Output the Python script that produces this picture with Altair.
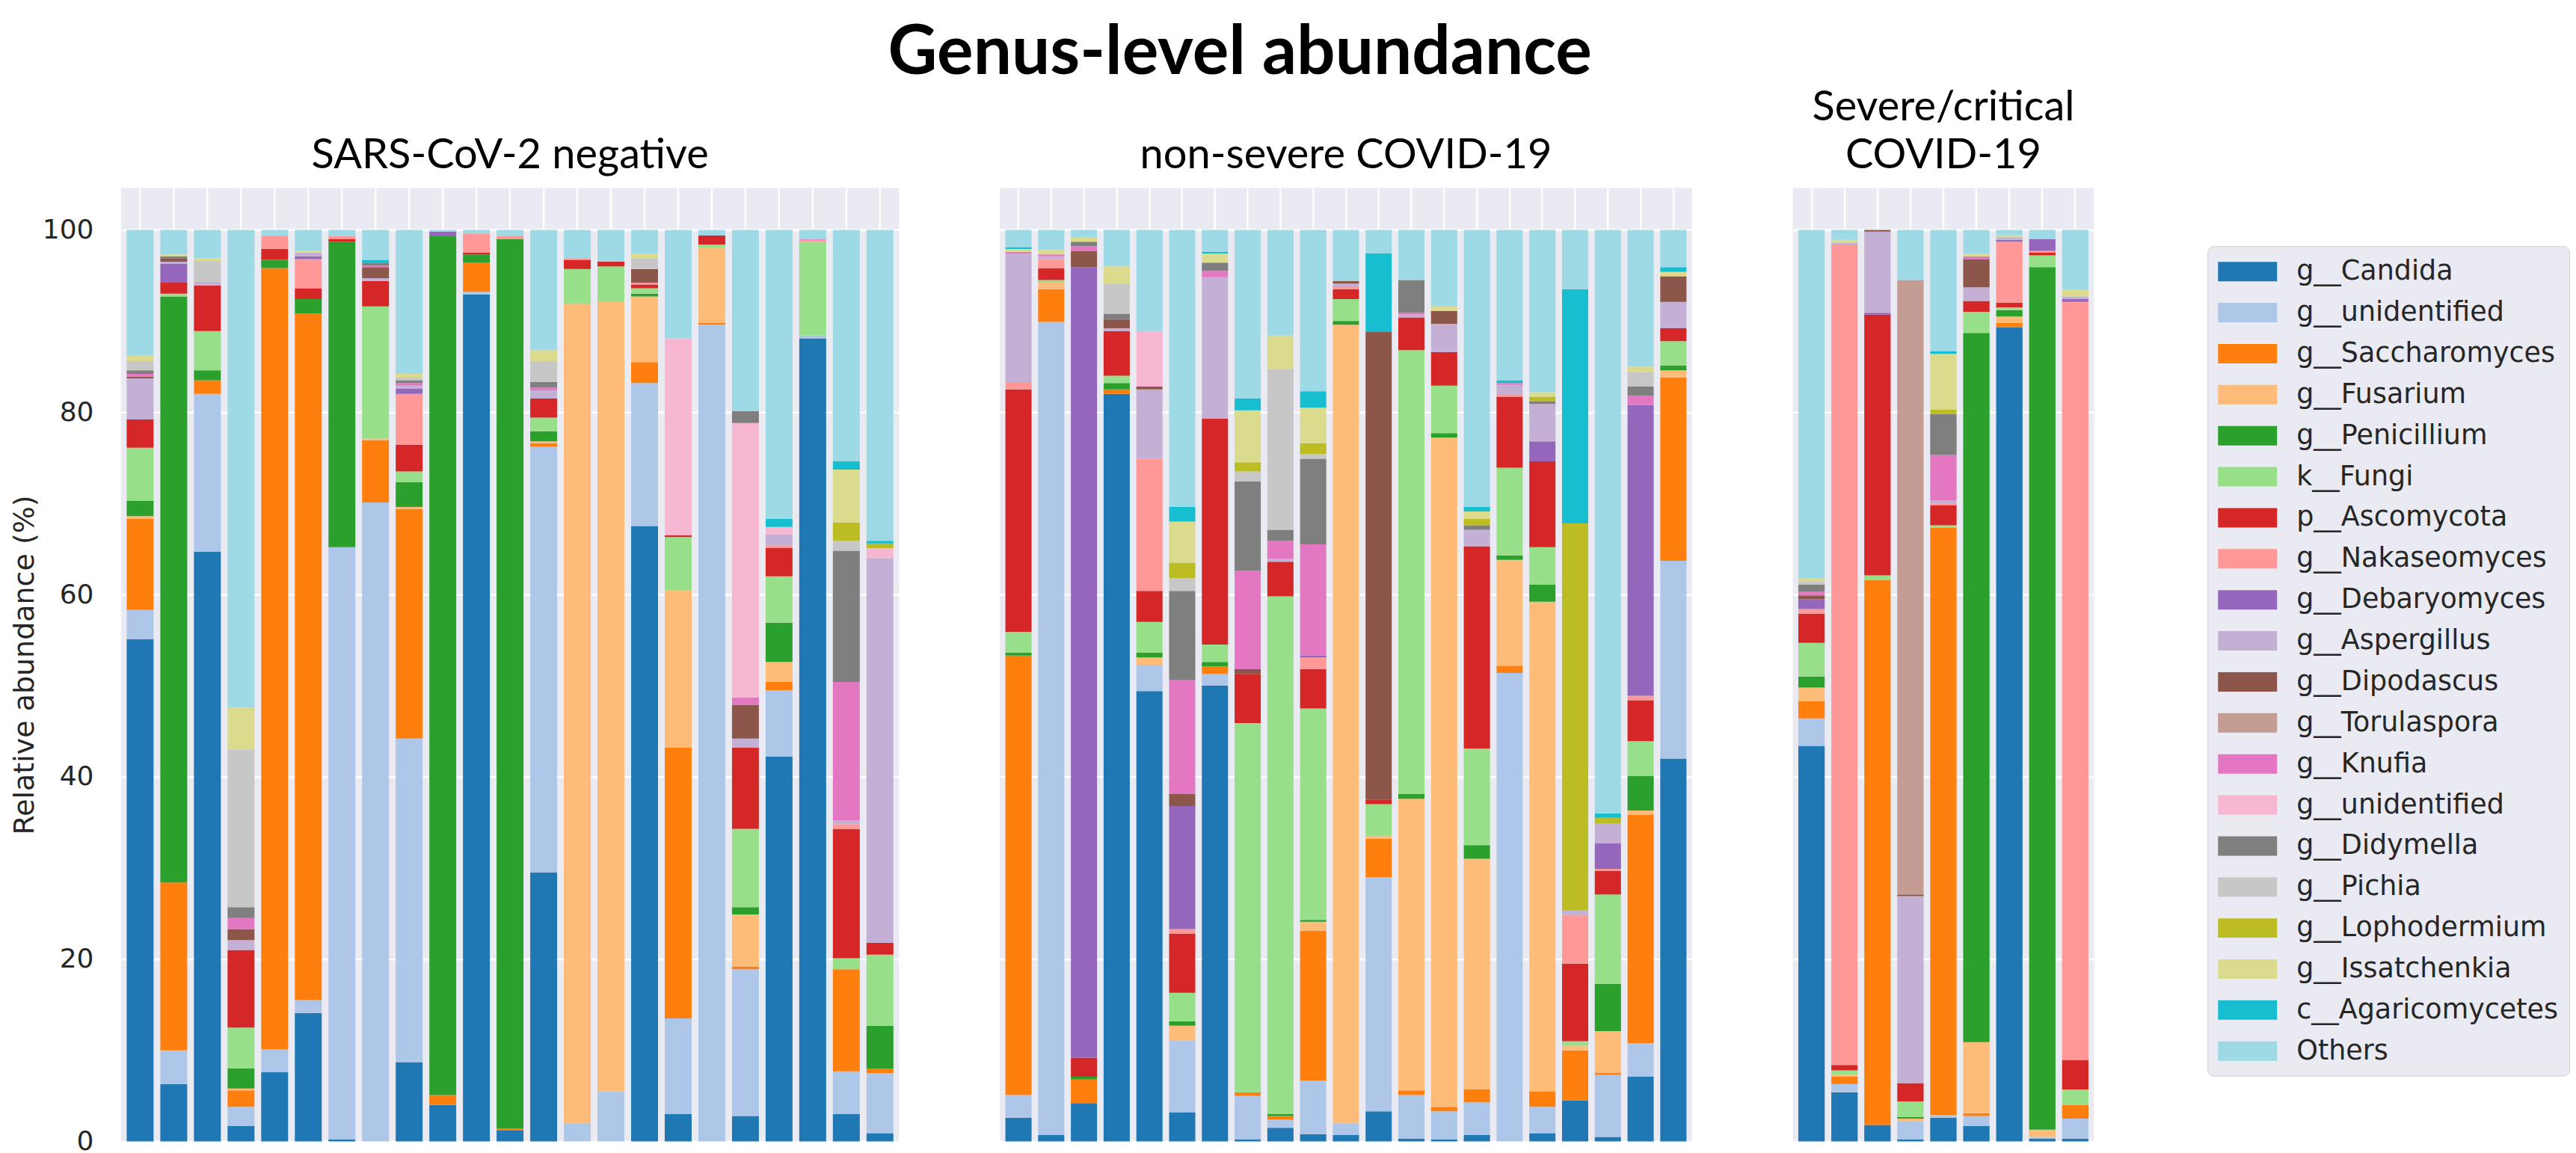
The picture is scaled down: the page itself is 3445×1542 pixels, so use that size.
import altair as alt
import pandas as pd

categories = ["g__Candida", "g__unidentified", "g__Saccharomyces", "g__Fusarium",
              "g__Penicillium", "k__Fungi", "p__Ascomycota", "g__Nakaseomyces",
              "g__Debaryomyces", "g__Aspergillus", "g__Dipodascus", "g__Torulaspora",
              "g__Knufia", "g__unidentified ", "g__Didymella", "g__Pichia",
              "g__Lophodermium", "g__Issatchenkia", "c__Agaricomycetes", "Others"]

colors = ["#1f77b4", "#aec7e8", "#ff7f0e", "#ffbb78", "#2ca02c", "#98df8a",
          "#d62728", "#ff9896", "#9467bd", "#c5b0d5", "#8c564b", "#c49c94",
          "#e377c2", "#f7b6d2", "#7f7f7f", "#c7c7c7", "#bcbd22", "#dbdb8d",
          "#17becf", "#9edae5"]

panel_titles = ["SARS-CoV-2 negative", "non-severe COVID-19", ["Severe/critical", "COVID-19"]]

# one row per sample, values in the order of `categories`
negative = [
    [55.1, 3.2, 10.0, 0.3, 1.7, 5.8, 3.1, 0, 0, 4.5, 0.2, 0, 0.3, 0, 0.4, 1.0, 0, 0.6, 0, 13.8],
    [6.3, 3.7, 18.4, 0, 64.3, 0.3, 1.2, 0, 2.1, 0.2, 0.4, 0, 0, 0, 0.2, 0, 0, 0.2, 0, 2.7],
    [64.7, 17.3, 1.5, 0, 1.1, 4.3, 5.0, 0, 0, 0.4, 0, 0, 0, 0, 0, 2.3, 0, 0.3, 0, 3.1],
    [1.7, 2.1, 1.8, 0.2, 2.2, 4.5, 8.5, 0, 0, 1.1, 1.2, 0, 1.2, 0, 1.2, 17.3, 0, 4.6, 0, 52.4],
    [7.6, 2.5, 85.7, 0, 0.9, 0, 1.2, 1.4, 0, 0, 0, 0, 0, 0, 0, 0, 0, 0, 0, 0.7],
    [14.1, 1.4, 75.3, 0, 1.6, 0, 1.2, 3.2, 0.3, 0.4, 0, 0, 0, 0, 0, 0, 0, 0.2, 0, 2.3],
    [0.2, 65.0, 0, 0, 33.5, 0, 0.3, 0.3, 0, 0, 0, 0, 0, 0, 0, 0, 0, 0, 0, 0.7],
    [0, 70.1, 6.8, 0.2, 0, 14.5, 2.8, 0, 0, 0.3, 1.2, 0, 0.2, 0, 0.3, 0, 0, 0, 0.3, 3.3],
    [8.7, 35.5, 25.2, 0.2, 2.7, 1.2, 2.9, 5.6, 0.6, 0.3, 0, 0, 0.3, 0, 0.3, 0.3, 0, 0.4, 0, 15.8],
    [4.0, 0, 1.1, 0, 94.2, 0, 0, 0, 0.5, 0, 0, 0, 0, 0, 0, 0, 0, 0, 0, 0.2],
    [92.9, 0.3, 3.2, 0, 0.9, 0, 0.2, 2.1, 0, 0, 0, 0, 0, 0, 0, 0, 0, 0, 0, 0.4],
    [1.2, 0, 0.2, 0, 97.6, 0, 0, 0.3, 0, 0, 0, 0, 0, 0, 0, 0, 0, 0, 0, 0.7],
    [29.5, 46.7, 0.4, 0.2, 1.1, 1.5, 2.1, 0, 0, 0.9, 0, 0, 0.3, 0, 0.6, 2.3, 0, 1.2, 0, 13.2],
    [0, 2.0, 0, 89.9, 0, 3.8, 1.0, 0.2, 0, 0, 0, 0, 0, 0, 0, 0, 0, 0, 0, 3.1],
    [0, 5.5, 0, 86.6, 0, 3.9, 0.5, 0, 0, 0, 0, 0, 0, 0, 0, 0, 0, 0, 0, 3.5],
    [67.5, 15.7, 2.3, 7.2, 0.3, 0.6, 0.4, 0.2, 0, 0, 1.5, 0, 0, 0, 0, 1.2, 0, 0.5, 0, 2.6],
    [3.0, 10.5, 29.7, 17.3, 0, 5.8, 0.2, 0, 0, 0, 0, 0, 0, 21.6, 0, 0, 0, 0, 0, 11.9],
    [0, 89.6, 0.2, 8.2, 0, 0.4, 1.0, 0, 0, 0, 0, 0, 0, 0, 0, 0, 0, 0, 0, 0.6],
    [2.8, 16.1, 0.3, 5.7, 0.8, 8.6, 8.9, 0, 0, 1.0, 3.7, 0, 0.8, 30.1, 1.3, 0, 0, 0, 0, 19.9],
    [42.2, 7.3, 0.9, 2.2, 4.3, 5.1, 3.1, 0.3, 0, 1.2, 0, 0, 0, 0.8, 0, 0, 0, 0, 0.9, 31.7],
    [88.1, 0.3, 0, 0, 0, 10.3, 0, 0.2, 0, 0, 0, 0, 0.1, 0, 0, 0, 0, 0, 0, 1.0],
    [3.0, 4.7, 11.2, 0, 0, 1.2, 14.2, 0.5, 0, 0.4, 0, 0, 15.2, 0, 14.4, 1.1, 2.0, 5.8, 0.9, 25.4],
    [0.9, 6.6, 0.5, 0, 4.7, 7.8, 1.3, 0, 0, 42.2, 0, 0, 0, 1.1, 0, 0, 0.5, 0, 0.3, 34.1],
]

nonsevere = [
    [2.6, 2.5, 48.2, 0, 0.3, 2.3, 26.6, 0.8, 0, 14.1, 0, 0, 0.2, 0, 0, 0, 0, 0.3, 0.2, 1.9],
    [0.7, 89.2, 3.6, 0.7, 0, 0.3, 1.3, 1.0, 0, 0.3, 0, 0, 0.2, 0, 0, 0, 0, 0.5, 0, 2.2],
    [4.2, 0, 2.6, 0, 0.3, 0, 2.1, 0, 86.7, 0, 1.8, 0, 0.5, 0, 0.5, 0, 0, 0.5, 0, 0.8],
    [82.0, 0, 0.5, 0, 0.7, 0.8, 4.9, 0, 0, 0.3, 0.9, 0, 0, 0, 0.7, 3.3, 0, 1.9, 0, 4.0],
    [49.4, 2.9, 0, 0.8, 0.5, 3.4, 3.4, 14.5, 0, 7.6, 0.3, 0, 0, 6.1, 0, 0, 0, 0, 0, 11.1],
    [3.2, 7.9, 0, 1.6, 0.5, 3.1, 6.5, 0.5, 13.5, 0, 1.3, 0, 12.5, 0, 9.8, 1.4, 1.7, 4.5, 1.6, 30.4],
    [50.0, 1.3, 0.8, 0, 0.5, 1.9, 24.8, 0, 0, 15.5, 0, 0, 0.7, 0, 0.9, 0, 0, 1.0, 0.2, 2.4],
    [0.2, 4.8, 0.4, 0, 0, 40.5, 5.4, 0, 0, 0, 0.5, 0, 10.8, 0, 9.8, 1.1, 1.0, 5.7, 1.3, 18.5],
    [1.5, 0.9, 0.4, 0, 0.2, 56.8, 3.8, 0, 0, 0.3, 0, 0, 2.0, 0, 1.2, 17.6, 0, 3.7, 0, 11.6],
    [0.8, 5.9, 16.4, 1.0, 0.2, 23.2, 4.3, 1.3, 0.2, 0, 0, 0, 12.2, 0, 9.4, 0.5, 1.2, 3.9, 1.8, 17.7],
    [0.7, 1.3, 0, 87.6, 0.4, 2.4, 1.1, 0.3, 0, 0.3, 0.3, 0, 0, 0, 0, 0, 0, 0, 0, 5.6],
    [3.3, 25.7, 4.2, 0.3, 0, 3.5, 0.5, 0, 0, 0, 51.3, 0, 0, 0, 0, 0, 0, 0, 8.6, 2.6],
    [0.3, 4.8, 0.5, 32.0, 0.5, 48.7, 3.6, 0, 0, 0.3, 0, 0, 0.2, 0, 3.6, 0, 0, 0, 0, 5.5],
    [0.2, 3.1, 0.5, 73.4, 0.5, 5.2, 3.7, 0, 0, 3.1, 1.4, 0, 0, 0, 0, 0, 0, 0.5, 0, 8.4],
    [0.7, 3.6, 1.4, 25.3, 1.5, 10.6, 22.2, 0, 0, 1.8, 0, 0, 0, 0, 0.5, 0, 0.7, 0.8, 0.5, 30.4],
    [0, 51.4, 0.8, 11.6, 0.5, 9.6, 7.8, 0.2, 0, 1.1, 0, 0, 0.2, 0, 0, 0, 0, 0, 0.3, 16.5],
    [0.9, 2.9, 1.7, 53.7, 1.9, 4.1, 9.4, 0, 2.2, 4.1, 0, 0, 0, 0, 0.3, 0, 0.5, 0.5, 0, 17.8],
    [4.5, 0, 5.5, 0.5, 0, 0.5, 8.5, 5.3, 0, 0.6, 0, 0, 0, 0, 0, 0, 42.4, 0, 25.7, 6.5],
    [0.5, 6.8, 0.2, 4.6, 5.2, 9.8, 2.6, 0.2, 2.8, 2.2, 0, 0, 0, 0, 0, 0, 0.6, 0, 0.5, 64.0],
    [7.1, 3.7, 25.0, 0.5, 3.8, 3.8, 4.5, 0.5, 31.9, 0, 0, 0, 1.0, 0, 1.0, 1.6, 0, 0.6, 0, 15.0],
    [42.0, 21.7, 20.1, 0.8, 0.5, 2.7, 1.4, 0, 0, 2.9, 2.8, 0, 0, 0, 0, 0, 0, 0.5, 0.5, 4.1],
]

severe = [
    [43.4, 3.0, 1.9, 1.5, 1.2, 3.7, 3.2, 0.5, 1.1, 0, 0.4, 0, 0.4, 0, 0.8, 0.3, 0, 0.4, 0, 38.2],
    [5.4, 0.9, 0.8, 0.2, 0, 0.5, 0.6, 90.0, 0, 0.2, 0, 0, 0, 0, 0, 0, 0, 0.3, 0, 1.1],
    [1.8, 0, 59.8, 0, 0, 0.5, 28.6, 0, 0.2, 8.9, 0.2, 0, 0, 0, 0, 0, 0, 0, 0, 0],
    [0.2, 2.0, 0, 0.3, 0.2, 1.7, 2.0, 0, 0, 20.5, 0.2, 67.4, 0, 0, 0, 0, 0, 0, 0, 5.5],
    [2.6, 0.3, 64.4, 0, 0, 0.3, 2.2, 0.2, 0, 0.3, 0, 0, 5.0, 0, 4.5, 0, 0.5, 6.1, 0.3, 13.3],
    [1.7, 1.1, 0.3, 7.8, 77.8, 2.3, 1.2, 0, 0, 1.5, 3.1, 0, 0.3, 0, 0, 0, 0, 0.3, 0, 2.6],
    [89.3, 0, 0.5, 0.7, 0.7, 0.3, 0.5, 6.7, 0.2, 0.3, 0, 0, 0, 0, 0, 0, 0, 0.2, 0, 0.6],
    [0.3, 0.2, 0, 0.8, 94.6, 1.3, 0.3, 0.2, 1.3, 0, 0, 0, 0, 0, 0, 0, 0, 0, 0, 1.0],
    [0.3, 2.2, 1.5, 0, 0, 1.7, 3.2, 83.2, 0.3, 0.3, 0, 0, 0, 0, 0, 0, 0, 0.7, 0, 6.6],
]

y_ticks = [0, 20, 40, 60, 80, 100]

PLOT_H = 1276
GRID_W = 2.5


def to_frame(rows):
    recs = []
    for b, row in enumerate(rows):
        for j, v in enumerate(row):
            if v > 0:
                recs.append({"bar": b, "cat": categories[j], "idx": j, "val": v})
    return pd.DataFrame(recs)


legend = alt.Legend(
    title=None, orient="none", legendX=2792, legendY=78, direction="vertical",
    symbolType="M-1,-0.65L2.95,-0.65L2.95,0.65L-1,0.65Z", symbolSize=1600,
    symbolStrokeWidth=0, labelFont="DejaVu Sans", labelFontSize=36.5,
    labelColor="#262626", labelOffset=65, labelLimit=700, rowPadding=15.9,
    padding=14, fillColor="#EAEAF2", strokeColor="#CCCCCC", cornerRadius=8,
)


def panel(rows, title, width, first):
    if first:
        yaxis = alt.Axis(values=y_ticks, title="Relative abundance (%)",
                         labelFont="DejaVu Sans", labelFontSize=36, labelColor="#262626",
                         labelPadding=37, ticks=False, domain=False, grid=True,
                         gridColor="white", gridWidth=GRID_W,
                         titleFont="DejaVu Sans", titleFontSize=38, titleFontWeight="normal",
                         titleColor="#262626", titlePadding=4)
    else:
        yaxis = alt.Axis(values=y_ticks, title=None, labels=False, ticks=False,
                         domain=False, grid=True, gridColor="white", gridWidth=GRID_W)
    return alt.Chart(to_frame(rows)).mark_bar().encode(
        x=alt.X("bar:O", scale=alt.Scale(paddingInner=0.2, paddingOuter=0.167),
                axis=alt.Axis(labels=False, ticks=False, domain=False, title=None,
                              grid=True, gridColor="white", gridWidth=GRID_W,
                              bandPosition=0.5)),
        y=alt.Y("val:Q", stack="zero",
                scale=alt.Scale(domain=[0, 104.6], nice=False, zero=False),
                axis=yaxis),
        color=alt.Color("cat:N", scale=alt.Scale(domain=categories, range=colors),
                        legend=legend),
        order=alt.Order("idx:Q", sort="ascending"),
    ).properties(
        width=width, height=PLOT_H,
        title=alt.TitleParams(title, font="Lato", fontSize=56, fontWeight="normal",
                              color="black", offset=14, lineHeight=64),
    )


chart = alt.hconcat(
    panel(negative, panel_titles[0], 1041, True),
    panel(nonsevere, panel_titles[1], 926, False),
    panel(severe, panel_titles[2], 403, False),
    spacing=135, bounds="flush",
).resolve_scale(
    x="independent", y="independent", color="shared"
).resolve_legend(color="shared").properties(
    title=alt.TitleParams("Genus-level abundance", font="Lato", fontSize=91,
                          fontWeight="bold", color="black", anchor="start",
                          dx=1174, offset=-2),
    padding={"left": 6, "top": 18, "right": 0, "bottom": 0},
    background="white",
).configure_view(fill="#EAEAF2", strokeWidth=0)

chart.save("out.html", embed_options={"renderer": "svg", "actions": False})
